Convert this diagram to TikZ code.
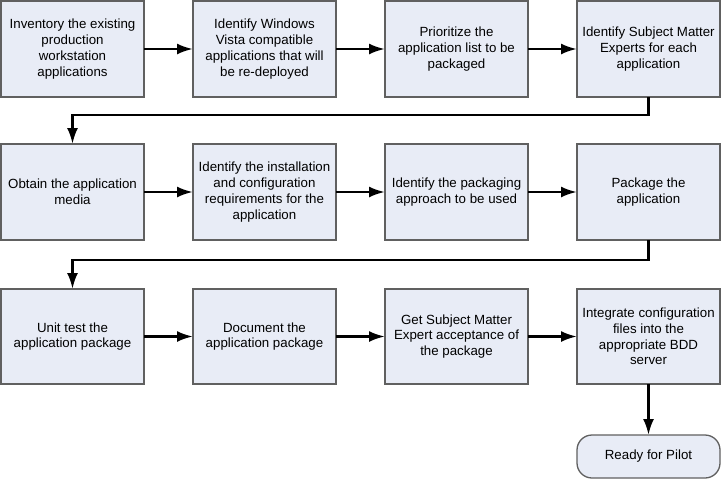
\documentclass[tikz,border=0pt]{standalone}
\usepackage{fontspec}
\setmainfont{Liberation Sans}
\usetikzlibrary{
arrows.meta,
positioning,
shapes
}
\definecolor{boxfill}{RGB}{232,236,246}
\definecolor{boxline}{RGB}{96,96,96}
\tikzset{>=latex}
\tikzset{
stepbox/.style={draw=boxline,line width=1.3pt,fill=boxfill,align=center,
  minimum width=143pt,minimum height=96pt,inner sep=0pt,outer sep=0pt,
  font=\fontsize{13.3}{15.8}\selectfont},
endbox/.style={stepbox,minimum height=43pt,rounded corners=15pt},
flow/.style={line width=2.6pt,-{Latex[length=16pt,width=11pt]}}
}

\begin{document}
\begin{tikzpicture}[node distance=47pt and 49pt,auto]
		\useasboundingbox (0,0) rectangle (721pt,-480pt);
		% first row
		\node[stepbox] at (72.5pt,-49pt) (inventory) {Inventory the existing\\production\\workstation\\applications};
		\node[stepbox,right=of inventory] (vista) {Identify Windows\\Vista compatible\\applications that will\\be re-deployed};
		\node[stepbox,right=of vista] (prioritize) {Prioritize the\\application list to be\\packaged};
		\node[stepbox,right=of prioritize] (experts) {Identify Subject Matter\\Experts for each\\application};
		% second row
		\node[stepbox,below=of inventory] (media) {Obtain the application\\media};
		\node[stepbox,right=of media] (install) {Identify the installation\\and configuration\\requirements for the\\application};
		\node[stepbox,right=of install] (approach) {Identify the packaging\\approach to be used};
		\node[stepbox,right=of approach] (package) {Package the\\application};
		% third row
		\node[stepbox,below=49pt of media,minimum height=95pt] (unittest) {Unit test the\\application package};
		\node[stepbox,right=of unittest,minimum height=95pt] (document) {Document the\\application package};
		\node[stepbox,right=of document,minimum height=95pt] (accept) {Get Subject Matter\\Expert acceptance of\\the package};
		\node[stepbox,right=of accept,minimum height=95pt] (integrate) {Integrate configuration\\files into the\\appropriate BDD\\server};
		\node[endbox,below=51pt of integrate] (pilot) {Ready for Pilot};

		\draw[flow] (inventory) -- (vista);
		\draw[flow] (vista) -- (prioritize);
		\draw[flow] (prioritize) -- (experts);
		\draw[flow] (experts.south) -- ++(0,-18pt) -| (media.north);
		\draw[flow] (media) -- (install);
		\draw[flow] (install) -- (approach);
		\draw[flow] (approach) -- (package);
		\draw[flow] (package.south) -- ++(0,-20pt) -| (unittest.north);
		\draw[flow] (unittest) -- (document);
		\draw[flow] (document) -- (accept);
		\draw[flow] (accept) -- (integrate);
		\draw[flow] (integrate) -- (pilot);
		\end{tikzpicture}
\end{document}
